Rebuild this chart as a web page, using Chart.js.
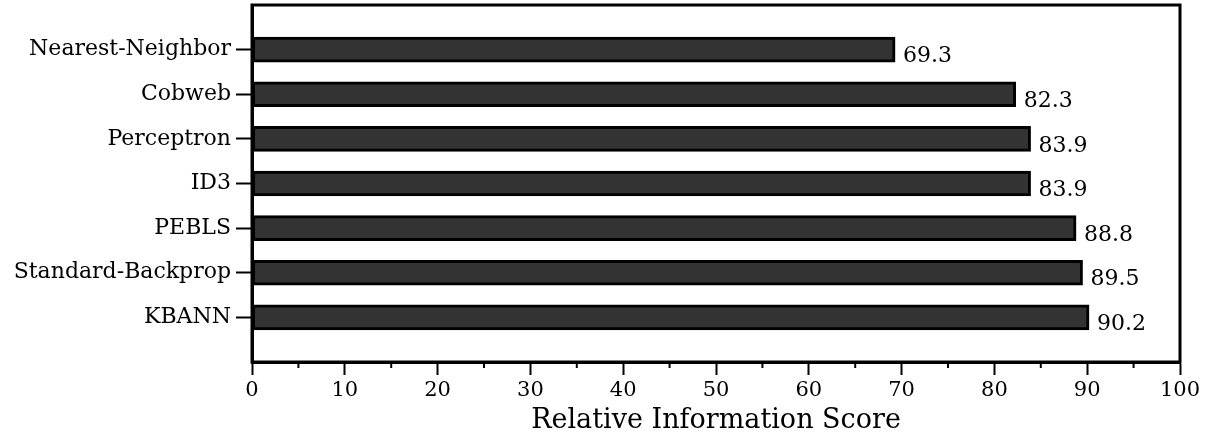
<!DOCTYPE html>
<html>
<head>
<meta charset="utf-8">
<script src="https://cdn.jsdelivr.net/npm/chart.js@4"></script>
<style>
  html, body { margin: 0; padding: 0; background: #fff; }
  #wrap { width: 1213px; height: 438px; }
</style>
</head>
<body>
<div id="wrap"><canvas id="chart" width="1213" height="438"></canvas></div>
<script>
// ── Data ─────────────────────────────────────────────────────
// empty first/last category give the half-band gap above and below the bars
const methods = ['', 'Nearest-Neighbor', 'Cobweb', 'Perceptron', 'ID3', 'PEBLS', 'Standard-Backprop', 'KBANN', ''];
const scores  = [null, 69.3, 82.3, 83.9, 83.9, 88.8, 89.5, 90.2, null];
const xTicks  = [0, 10, 20, 30, 40, 50, 60, 70, 80, 90, 100];
const xMinorTicks = [5, 15, 25, 35, 45, 55, 65, 75, 85, 95];
const xTitle  = 'Relative Information Score';

const SERIF = '"DejaVu Serif", "Liberation Serif", serif';

// ── Plugins ──────────────────────────────────────────────────

// frame round the plot area
const framePlugin = {
  id: 'frame',
  afterDraw(chart) {
    const { ctx, chartArea: a } = chart;
    ctx.save();
    ctx.strokeStyle = '#000';
    ctx.lineWidth = 3;
    ctx.strokeRect(a.left, a.top, a.right - a.left, a.bottom - a.top);
    ctx.restore();
  },
};

// short minor ticks on the x axis
const minorTicksPlugin = {
  id: 'minorTicks',
  afterDraw(chart) {
    const { ctx } = chart;
    const x = chart.scales.x;
    ctx.save();
    ctx.strokeStyle = '#000';
    ctx.lineWidth = 2;
    xMinorTicks.forEach(v => {
      const px = x.getPixelForValue(v);
      ctx.beginPath();
      ctx.moveTo(px, x.top);
      ctx.lineTo(px, x.top + 6);
      ctx.stroke();
    });
    ctx.restore();
  },
};

// value printed just right of each bar, a bit below its centre
const valueLabelPlugin = {
  id: 'valueLabels',
  afterDatasetsDraw(chart) {
    const { ctx } = chart;
    const meta = chart.getDatasetMeta(0);
    ctx.save();
    ctx.font = `22px ${SERIF}`;
    ctx.fillStyle = '#000';
    ctx.textAlign = 'left';
    ctx.textBaseline = 'middle';
    meta.data.forEach((bar, i) => {
      const v = scores[i];
      if (v == null) return;
      ctx.fillText(v.toFixed(1), bar.x + 8, bar.y + 7);
    });
    ctx.restore();
  },
};

// ── Chart ────────────────────────────────────────────────────
new Chart(document.getElementById('chart'), {
  type: 'bar',
  data: {
    labels: methods,
    datasets: [{
      data: scores,
      backgroundColor: '#333333',
      borderColor: '#000',
      borderWidth: 3,
      borderSkipped: false,
      barThickness: 25,
    }],
  },
  options: {
    indexAxis: 'y',
    responsive: false,
    animation: false,
    layout: { padding: { top: 5, right: 33, bottom: 0, left: 0 } },
    plugins: { legend: { display: false }, tooltip: { enabled: false } },
    scales: {
      x: {
        type: 'linear',
        min: 0, max: 100,
        afterBuildTicks: s => { s.ticks = xTicks.map(v => ({ value: v })); },
        afterFit: s => { s.height = 76; },
        ticks: { color: '#000', font: { family: SERIF, size: 21 }, padding: 3, maxRotation: 0, autoSkip: false },
        grid: { drawOnChartArea: false, tickLength: 13, tickWidth: 2, tickColor: '#000' },
        border: { display: true, color: '#000', width: 3 },
        title: { display: true, text: xTitle, color: '#000', font: { family: SERIF, size: 27, lineHeight: 1.1 }, padding: { top: 0, bottom: 2 } },
      },
      y: {
        offset: false,
        afterFit: s => { s.width = 252; s.paddingTop = 0; s.paddingBottom = 0; },
        ticks: { color: '#000', font: { family: SERIF, size: 22 }, padding: 5, autoSkip: false },
        grid: {
          offset: false,
          drawOnChartArea: false, tickLength: 16, tickWidth: 2,
          tickColor: c => (c.index === 0 || c.index === methods.length - 1) ? 'rgba(0,0,0,0)' : '#000',
        },
        border: { display: true, color: '#000', width: 3 },
      },
    },
  },
  plugins: [framePlugin, minorTicksPlugin, valueLabelPlugin],
});
</script>
</body>
</html>
